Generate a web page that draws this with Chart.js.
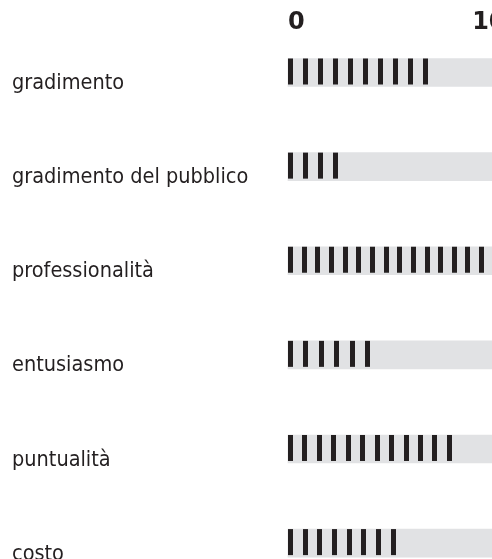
<!DOCTYPE html>
<html>
<head>
<meta charset="utf-8">
<script src="https://cdn.jsdelivr.net/npm/chart.js@4"></script>
<style>
  html, body { margin: 0; padding: 0; overflow: hidden; background: #fff; }
  #wrap { width: 509px; height: 559px; }
</style>
</head>
<body>
<div id="wrap"><canvas id="chart"></canvas></div>
<script>
const categories = [
  "gradimento",
  "gradimento del pubblico",
  "professionalità",
  "entusiasmo",
  "puntualità",
  "costo"
];
const values = [7.6, 2.7, 10.65, 4.45, 8.9, 5.85];
const markCounts = [10, 4, 15, 6, 12, 8];
const xTicks = [0, 10];
const AXIS_MAX = 12;

const INK = "#231f20";
const TRACK = "#e1e2e4";

// draws the tally marks inside each value bar
const tallyPlugin = {
  id: "tally",
  afterDatasetsDraw(chart) {
    const meta = chart.getDatasetMeta(1);
    const ctx = chart.ctx;
    const markW = 5;
    ctx.save();
    ctx.fillStyle = INK;
    meta.data.forEach((bar, i) => {
      const n = markCounts[i];
      const len = bar.x - bar.base;
      const step = n > 1 ? (len - markW) / (n - 1) : 0;
      const top = bar.y - bar.height / 2;
      for (let k = 0; k < n; k++) {
        ctx.fillRect(Math.round(bar.base + k * step), top, markW, bar.height - 2);
      }
    });
    ctx.restore();
  }
};

new Chart(document.getElementById("chart"), {
  type: "bar",
  data: {
    labels: categories,
    datasets: [
      {
        data: categories.map(() => AXIS_MAX),
        backgroundColor: TRACK,
        grouped: false,
        barThickness: 28,
        clip: false
      },
      {
        data: values,
        backgroundColor: "rgba(0,0,0,0)",
        grouped: false,
        barThickness: 28,
        clip: false
      }
    ]
  },
  options: {
    indexAxis: "y",
    responsive: true,
    maintainAspectRatio: false,
    animation: false,
    layout: { padding: { left: 12, top: 7, bottom: 14.5, right: 0 } },
    plugins: { legend: { display: false }, tooltip: { enabled: false } },
    scales: {
      x: {
        position: "top",
        min: 0,
        max: AXIS_MAX,
        afterBuildTicks: (scale) => { scale.ticks = xTicks.map(v => ({ value: v })); },
        afterFit: (scale) => {
          scale.height = 65.5;
          scale.paddingLeft = 0;
          scale.paddingRight = 0;
        },
        grid: { display: false, drawTicks: false },
        border: { display: false },
        ticks: {
          align: "start",
          padding: 35,
          color: INK,
          font: { family: "'DejaVu Sans'", weight: "bold", size: 24 }
        }
      },
      y: {
        offset: false,
        afterFit: (scale) => { scale.width = 276; },
        grid: { display: false, drawTicks: false },
        border: { display: false },
        ticks: {
          crossAlign: "far",
          labelOffset: 11,
          color: INK,
          font: { family: "'Liberation Sans Narrow', 'DejaVu Sans Condensed', 'Liberation Sans', sans-serif", size: 21.5 }
        }
      }
    }
  },
  plugins: [tallyPlugin]
});
</script>
</body>
</html>
